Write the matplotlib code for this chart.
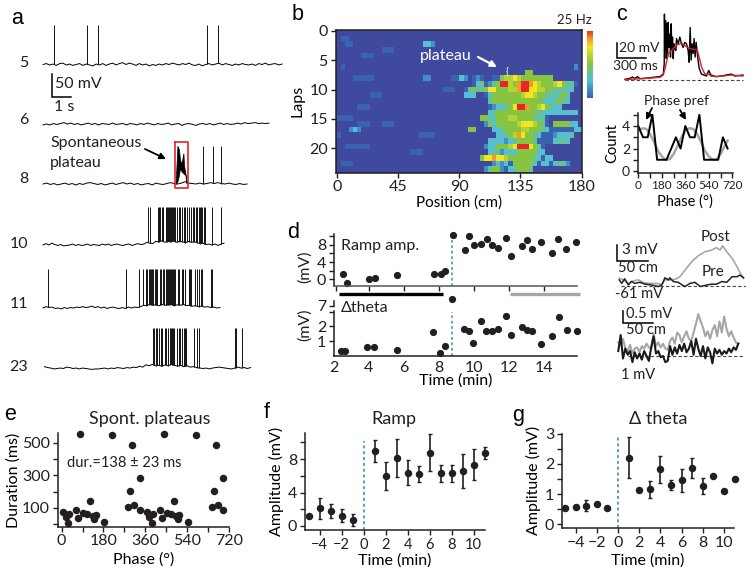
import matplotlib
matplotlib.use('Agg')
import matplotlib.pyplot as plt
import numpy as np
from matplotlib.colors import ListedColormap, LinearSegmentedColormap

W, H = 751, 574
INK = '#231F20'
BLUE_DASH = '#5B9BC8'
GREY = '#A6A6A6'
plt.rcParams['font.family'] = ['Lato', 'DejaVu Sans']
plt.rcParams['font.size'] = 11
plt.rcParams['axes.linewidth'] = 1.1
plt.rcParams['axes.edgecolor'] = INK
plt.rcParams['text.color'] = INK
plt.rcParams['xtick.color'] = INK
plt.rcParams['ytick.color'] = INK

# --- a: voltage traces, baseline in mV, spike times in s
lap5_base = [0, 2, -1, 1, -2, 2, 3, -1, 1, -2, 0, 2, -2, 1, -1, -3, 1, -1, 2, -2, 1, 3, -1, 2, 4, 0, 3, 1, -2, 2,
             -1, 1, -3, 0, -2, 1, -1, 2, 0, 3, 1, -1, 2, 0, 3, -1, -2, 1, -3, 0, 2, -1, 1, 3, -1, 2, 0, -2, 1, -1,
             2, 0, -1, 1, -2, 2, 0, 3, -1, 1, 2, -1, 1]
lap5_spikes = [0.53, 2.2, 2.73, 8.18, 8.75]
lap6_base = [-2, 0, -2, 1, -1, 1, 3, 0, 2, -1, 1, -2, 0, 2, -1, 1, -2, 1, 0, -1, 2, -1, 0, 1, -2, 1, 0, -2, 1, -1,
             2, 0, -2, 1, -1, 0, 2, -2, 0, 1, -3, 0, 1, -1, -3, 0, 1, -1, 1, -2, 0, 2, -1, 1, -1, 0, 2, 0, 3, 1, 2,
             3, 1, 2, 1, 2]
lap8_base = [0, 2, -1, 1, -2, 0, 2, -1, 1, -2, 1, -1, 2, 3, 1, -1, 1, -2, 0, 2, -1, 1, 3, 0, 2, -1, 1, -2, 0, 1,
             -2, 2, 0, -1, 1, 3, 1, 0, 2, 5, 2, 1, 0, 2, 0, 1, 3, 1, 3, 1, 0, 2, 0, -1, 1, -1, 0]
lap8_spikes = [8.0, 8.48, 8.92]
plateau_t = [6.63, 6.72, 6.8, 6.85, 6.93, 7.02, 7.05, 7.12, 7.18]
plateau_hi = [0, 83, 75, 52, 45, 67, 41, 23, 5]
plateau_lo = [0, 5, 20, 34, 27, 23, 22, 20, 1]
lap10_base = [0, 3, 0, 4, 1, -1, 1, -2, -1, 0, 2, -1, 1, -1, 0, 2, -1, 1, 0, -1, 2, 0, 2, -1, 1, 2, 0, -1, 1, 2, -1,
              1, 3, 1, 2, 6, 4, 3, 8, 7, 9, 6, 8, 7, 9, 6, 8, 7, 5, 8, 6, 7, 5, 3, 4, 1, 2, 0, 2, -1, 2, 4]
lap10_spikes = [5.23, 5.37, 5.73, 5.8, 5.87, 5.93, 5.98, 6.13, 6.18, 6.23, 6.28, 6.33, 6.38, 6.43, 6.48, 6.55,
                6.62, 6.7, 6.78, 6.87, 6.95, 7.05, 7.12, 7.22, 7.32, 7.38, 7.48, 7.55, 7.63, 7.72, 7.8, 7.85,
                7.92, 7.97, 8.05, 8.12, 8.45, 8.88]
lap11_base = [0, 3, 1, 2, -1, 0, -2, 1, -1, 1, 0, 2, 1, 3, 1, 2, 4, 1, 3, 0, 2, -1, 1, 2, 0, -1, 1, -1, 2, 0, 2, 1,
              3, 6, 5, 8, 6, 7, 5, 8, 6, 7, 8, 5, 7, 6, 8, 5, 6, 4, 5, 3, 4, 2, 3, 1, 2, 0, 1]
lap11_spikes = [0.23, 4.13, 4.8, 5.02, 5.15, 5.22, 5.32, 5.37, 5.42, 5.47, 5.52, 5.58, 5.63, 5.68, 5.87, 5.92,
                5.98, 6.03, 6.13, 6.18, 6.23, 6.28, 6.33, 6.38, 6.43, 6.48, 6.55, 6.62, 6.75, 6.82, 6.95,
                7.02, 7.12, 7.28, 7.37, 7.42, 7.62, 7.68, 7.82, 7.88, 7.95, 8.42, 8.47]
lap23_base = [4, 2, 1, -1, 0, 1, 0, 3, 2, 0, 1, -1, 1, 0, -1, -2, -1, -1, 0, 1, -1, 1, 0, 2, 1, 0, 2, 1, 3, 2, 5, 3,
              8, 6, 9, 6, 7, 5, 8, 6, 9, 7, 5, 7, 4, 6, 3, 4, 2, 1, 0, 1, -1, 1, 2, 3, 2, 1, 0, -1, 1, 3, 1, 2, 0, 2]
lap23_spikes = [5.52, 5.57, 5.63, 5.72, 5.8, 5.88, 5.97, 6.08, 6.17, 6.23, 6.35, 6.4, 6.45, 6.5, 6.55, 6.7,
                6.78, 6.87, 6.95, 7.03, 7.1, 7.17, 7.53, 7.68, 7.8, 9.58, 9.65, 9.97]

# --- b: firing-rate map, one digit per 3 cm bin (0 background, 9 peak), laps 0-24
heat_left = ['', '011', '001100000000000000000332', '00000000000111', '000000111', '', '01', '',
             '000011111000000000000220000011', '', '00000000000000000000000000111', '00000000111', '',
             '00000111', '', '1111', '00000111000111', '000232', '100000000000000000001111', '', '00111111',
             '000000000000000000111', '00', '0111', '']
heat_right = ['', '', '', '', '', '', '00000000000000000000000000002', '000000000000000055',
              '32012100115667655555555', '0001341245' + '9965899876555675441',
              '0145445775' + '556689977665544433', '0333001355' + '55555677655443454',
              '0000000455' + '55555555554334543', '0000000123' + '345799855675433',
              '0000000345' + '5555555554333333333', '0000055345' + '556655554441',
              '0000002535' + '5555677765410555533', '0055000033' + '45555665554311111133',
              '0000000003' + '345687554311123334', '0000000333' + '32345555411113443',
              '0000002335' + '55679997541', '0000000344' + '23335555533', '0000057787' + '7655555543133',
              '0000000023' + '23155555313313442', '0000002455' + '21345554']
heat_colors = ['#3F4A9E', '#3A62B0', '#3E8FCB', '#58BFD0', '#66C196', '#86C441', '#B5D334', '#F3E620',
               '#F59A23', '#E8262A']
heat_ticks_x = [0, 45, 90, 135, 180]
heat_ticks_y = [0, 5, 10, 15, 20]

# --- c: plateau trace (ms, mV) and phase histogram
c_black_t = [0, 52, 79, 103, 128, 155, 241, 293, 362, 397, 407, 409, 414, 421, 428, 434, 441, 448, 455, 466, 472,
             479, 486, 493, 500, 507, 517, 528, 534, 552, 569, 586, 603, 621, 638, 655, 665, 676, 686, 696, 707,
             717, 727, 738, 748, 758, 769, 793, 845, 869, 890, 948, 1017, 1103, 1138, 1224]
c_black_v = [0, 1.3, 3.1, 0.9, 3.6, 0.9, 1.8, 2.7, 3.6, 7.1, 21, 88, 39, 79, 28, 75, 30, 77, 43, 61, 30, 75, 39, 57,
             28, 48, 41, 39, 55, 48, 57, 48, 43, 50, 48, 39, 23, 70, 26, 48, 35, 55, 30, 50, 37, 26, 15, 7, 4.4,
             12, 5.8, 3.6, 4.9, 7.1, 4.4, 5.8]
c_red_t = [0, 190, 362, 397, 424, 448, 483, 534, 586, 638, 690, 748, 769, 793, 828, 869, 890, 948, 1017, 1103, 1224]
c_red_v = [-0.4, 0.9, 2.7, 5.8, 19, 35, 39, 46, 49, 44, 41, 40, 30, 17, 7, 7, 4.4, 3.6, 4.4, 5.8, 4.4]
phase_bins = [0, 36, 72, 108, 144, 180, 216, 252, 288, 324, 360, 396, 432, 468, 504, 540, 576, 612, 648, 684]
phase_count = [4, 3, 3, 5, 1, 1, 1, 2, 3, 2, 4, 3, 3, 5, 1, 1, 1, 1, 3, 2]
fit_phase = [0, 30, 60, 90, 120, 150, 180, 210, 240, 270, 300, 330, 360, 390, 420, 450, 480, 510, 540, 570, 600, 630, 660, 684]
fit_count = [3.6, 3.8, 3.75, 3.3, 2.6, 1.8, 1.3, 1.0, 1.05, 1.5, 2.2, 3.0, 3.6, 3.8, 3.75, 3.3, 2.6, 1.8, 1.3, 1.0, 1.05, 1.5, 2.2, 2.7]

# --- d: time courses
ramp_t = [2.5, 2.74, 4.0, 4.37, 5.6, 7.73, 8.15, 8.37, 8.79, 9.52, 9.73, 10.0, 10.43, 10.76, 11.05, 11.37, 11.83,
          12.15, 12.76, 13.07, 13.35, 13.83, 14.48, 14.82, 15.3, 15.87]
ramp_v = [1.15, -0.77, 0.08, 0.3, 1.0, 1.23, 1.15, 1.85, 10.3, 6.8, 9.9, 8.0, 8.15, 9.2, 7.85, 7.2, 9.5, 5.3, 7.7,
          9.1, 6.9, 8.7, 6.15, 9.2, 6.9, 8.6]
theta_t = [2.42, 2.63, 3.91, 4.27, 5.63, 7.69, 8.07, 8.34, 9.46, 9.71, 9.96, 10.4, 10.72, 11.03, 11.37, 11.83,
           12.13, 12.76, 13.07, 13.35, 13.83, 14.5, 14.86, 15.34, 15.93]
theta_v = [0.3, 0.34, 0.6, 0.57, 0.39, 1.61, 0.16, 0.64, 1.84, 1.66, 0.87, 2.39, 1.7, 1.68, 1.84, 2.69, 1.38, 1.98,
           1.77, 1.66, 0.8, 1.36, 2.62, 1.75, 1.66]
theta_outlier_t = [8.76]
theta_outlier_v = [8.0]

post_x = [0, 7, 15, 23, 32, 40, 48, 59, 71, 76, 84, 93, 101, 112, 123, 132, 143, 154, 162, 168, 172, 179, 188, 196, 202, 207]
post_v = [1.5, 1.2, 0.55, 1.0, 1.2, 0.7, 0.55, 0.55, 0.4, 1.2, 1.2, 1.3, 1.8, 3.4, 4.9, 5.75, 6.5, 6.8, 7.25, 6.8,
          7.6, 6.5, 5.25, 3.7, 2.4, 1.5]
pre_x = [0, 4, 9, 15, 20, 26, 34, 43, 54, 65, 71, 76, 82, 84, 90, 98, 109, 118, 126, 135, 146, 154, 162, 171, 179, 188, 196, 201, 207]
pre_v = [1.2, 0.55, 1.4, 0.25, 0.9, 0.55, 0.75, 0.4, 0.25, -0.05, 0.25, 1.6, 1.2, 1.6, 0.9, 0.75, -0.05, 0.55, 0.75,
         -0.05, 0.25, 0.4, 0.4, 0.9, 0.75, 1.8, 1.8, 2.1, 1.6]
theta_post = [0.55, 0.45, 0.7, 0.3, 0.2, 0.45, 0.1, 0.3, 0.35, 0.15, 0.4, 0.3, 0.5, 0.35, 0.3, 0.9, 0.4, 0.55, 0.35,
              0.5, 0.3, 0.25, 0.6, 0.75, 0.5, 0.95, 0.85, 0.55, 0.8, 1.0, 0.7, 0.6, 0.95, 1.3, 1.7, 1.4, 1.15, 0.8,
              1.0, 0.7, 1.05, 1.25, 0.8, 1.4, 0.95, 1.6, 1.1, 0.8, 1.0, 0.75, 0.55, 0.5]
theta_pre = [0.2, 0.85, -0.1, 0.3, 0.05, 0.2, -0.25, 0.15, -0.1, 0.1, -0.15, 0.2, 0, -0.2, 0.35, 0.8, 0.1, 0.2, -0.05,
             0, -0.25, -0.2, 0.4, 0.05, 0.35, 0.1, 0.45, 0.2, 0.5, 0.15, 0.3, 0.6, 0.05, 0.7, 0.3, 0.0, 0.4, -0.1,
             0.35, 0.15, -0.3, 0.3, 0.1, 0.25, 0.05, 0.2, 0.1, 0.3, 0.15, 0.35, 0.25, 0.5]

# --- e: plateau duration against phase (one cycle, plotted twice)
spont_phase = [7, 17, 33, 29, 62, 70, 93, 110, 133, 141, 146, 122, 184, 80, 217, 287, 311, 336, 294, 336, 304]
spont_dur = [77, 46, 63, 9, 87, 40, 71, 63, 50, 34, 54, 145, 11, 553, 549, 104, 120, 89, 204, 286, 489]

# --- f, g: binned means
bin_t = [-5, -4, -3, -2, -1, 1, 2, 3, 4, 5, 6, 7, 8, 9, 10, 11]
ramp_mean = [1.2, 2.1, 1.8, 1.25, 0.7, 9.0, 6.0, 8.1, 6.35, 6.2, 8.75, 6.3, 6.3, 6.55, 7.3, 8.75]
ramp_err = [0, 1.3, 0.85, 0.75, 0.75, 1.3, 1.7, 2.3, 1.5, 0.95, 2.2, 1.05, 1.05, 2.0, 1.85, 0.75]
theta_mean = [0.53, 0.56, 0.62, 0.69, 0.55, 2.2, 1.13, 1.16, 1.82, 1.3, 1.46, 1.85, 1.27, 1.6, 1.1, 1.5]
theta_err = [0.05, 0.05, 0.18, 0.05, 0, 0.68, 0.05, 0.28, 0.44, 0.17, 0.38, 0.33, 0.25, 0, 0, 0]


fig = plt.figure(figsize=(W / 100, H / 100), dpi=100, facecolor='white')


def px_axes(left, top, right, bottom):
    return fig.add_axes([left / W, 1 - bottom / H, (right - left) / W, (bottom - top) / H])


def trace_axes(left, top, right, bottom, x0, y0, sx, sy):
    # no visible axis here: only the scale bars give the units
    ax = px_axes(left, top, right, bottom)
    ax.set_xlim((left - x0) / sx, (right - x0) / sx)
    ax.set_ylim((y0 - bottom) / sy, (y0 - top) / sy)
    ax.axis('off')
    return ax


def clean(ax):
    ax.spines['top'].set_visible(False)
    ax.spines['right'].set_visible(False)
    ax.patch.set_alpha(0)
    ax.tick_params(which='both', direction='out', width=1.0, labelsize=11.5, pad=2)
    ax.tick_params(which='major', length=3.5)
    ax.tick_params(which='minor', length=3.5)


def lap_trace(y0, base, spikes, height, start=0.0, end=12.0):
    ax = trace_axes(40, y0 - 50, 290, y0 + 10, 43, y0, 20, 0.46)
    t = np.linspace(start, end, len(base))
    ax.plot(t, base, color='black', lw=0.7)
    if spikes:
        ax.vlines(spikes, np.interp(spikes, t, base), height, color='#111111', lw=0.7)
    return ax


# panel a
lap_trace(64.5, lap5_base, lap5_spikes, 85, end=11.95)
lap_trace(124, lap6_base, [], 0, end=11.3)
ax8 = lap_trace(184, lap8_base, lap8_spikes, 82, end=10.2)
ax8.fill_between(plateau_t, plateau_lo, plateau_hi, color='black', lw=0.5)
lap_trace(245, lap10_base, lap10_spikes, 83, end=9.05)
lap_trace(308, lap11_base, lap11_spikes, 84, end=8.85)
lap_trace(368.5, lap23_base, lap23_spikes, 87, start=0.07, end=10.38)

# panel b
ax = px_axes(335.5, 30, 581.7, 172.7)
heat = np.array([[int(c) for c in (l.ljust(30, '0') + r.ljust(30, '0'))] for l, r in zip(heat_left, heat_right)])
ax.set_facecolor(heat_colors[0])
ax.imshow(heat, cmap=ListedColormap(heat_colors), vmin=0, vmax=9, aspect='auto', extent=(0, 180, 24.1, 0),
          interpolation='nearest')
ax.set_xlim(-0.9, 180)
ax.set_ylim(24.22, -0.17)
ax.set_xticks(heat_ticks_x)
ax.set_yticks(heat_ticks_y)
ax.tick_params(direction='out', length=3.5, width=1.0, labelsize=11.5, pad=2)
ax.set_xlabel('Position (cm)', fontsize=11, labelpad=1)
ax.set_ylabel('Laps', fontsize=11.5, labelpad=3)

cb = px_axes(587.3, 30.7, 593.3, 98.3)
cb.imshow(np.linspace(1, 0, 64)[:, None], aspect='auto',
          cmap=LinearSegmentedColormap.from_list('rate', heat_colors[1:]))
cb.axis('off')

# panel c
ax = trace_axes(623, 8, 745, 86, 625, 79.3, 118 / 1224, 0.74)
ax.hlines(-0.9, 0, 1224, color='#444444', lw=0.8, linestyles=(0, (3, 2)))
ax.plot(c_black_t, c_black_v, color='black', lw=1.0)
ax.plot(c_red_t, c_red_v, color='#D9202E', lw=1.0)

ax = px_axes(637.7, 113, 732.7, 172.7)
ax.plot(fit_phase, fit_count, color=GREY, lw=1.8)
ax.plot(phase_bins, phase_count, color='black', lw=1.4)
ax.set_xlim(-4.6, 723)
ax.set_ylim(-0.15, 5.16)
ax.set_xticks([0, 180, 360, 540, 720])
ax.set_xticks([90, 270, 450, 630], minor=True)
ax.set_yticks([0, 2, 4])
ax.set_yticks([1, 3, 5], minor=True)
clean(ax)
ax.tick_params(axis='y', labelsize=10)
ax.tick_params(axis='x', labelsize=8.5)
ax.set_xlabel('Phase (°)', fontsize=10.5, labelpad=2)
ax.set_ylabel('Count', fontsize=10.5, labelpad=2)

# panel d, left
ax = px_axes(334, 234, 576.7, 286)
ax.plot(ramp_t, ramp_v, 'o', color=INK, ms=5.2, clip_on=False, mec='none')
ax.vlines(8.78, -1.5, 9.5, color=BLUE_DASH, lw=1.3, linestyles=(0, (1.5, 1.5)))
ax.set_xlim(2, 15.9)
ax.set_ylim(-1.5, 10.45)
ax.set_xticks([2.1, 4, 6, 8, 10, 12, 14])
ax.set_xticklabels([])
ax.set_yticks([0, 4, 8])
ax.set_yticks([2, 6, 10], minor=True)
ax.set_yticklabels(['0', '4', '8'])
clean(ax)
ax.spines['bottom'].set_color('#555555')

ax = px_axes(334, 311, 576.7, 355.7)
ax.plot(theta_t, theta_v, 'o', color=INK, ms=5.2, clip_on=False, mec='none')
ax.vlines(8.78, 0, 3, color=BLUE_DASH, lw=1.3, linestyles=(0, (1.5, 1.5)))
ax.set_xlim(2, 15.9)
ax.set_ylim(0, 3.05)
ax.set_xticks([2, 4, 6, 8, 10, 12, 14])
ax.set_yticks([1, 2])
ax.set_yticks([3], minor=True)
clean(ax)
ax.tick_params(axis='x', length=0, pad=4)
ax.set_xlabel('Time (min)', fontsize=11.5, labelpad=-1)

ax = px_axes(334, 301, 576.7, 306)
ax.plot(theta_outlier_t, theta_outlier_v, 'o', color=INK, ms=5.2, clip_on=False, mec='none')
ax.set_xlim(2, 15.9)
ax.set_ylim(7, 7.7)
ax.set_xticks([])
ax.set_yticks([7])
clean(ax)
ax.spines['bottom'].set_visible(False)
ax.tick_params(labelsize=11.5)

# panel d, right
ax = trace_axes(617, 240, 746, 296, 619.3, 286.3, 0.6, 5.33)
ax.hlines(0, 3, 212, color='#444444', lw=0.8, linestyles=(0, (3, 2)))
ax.plot(post_x, post_v, color=GREY, lw=1.2)
ax.plot(pre_x, pre_v, color='#222222', lw=1.1)

ax = trace_axes(615, 305, 746, 372, 618.3, 356, 0.6, 74 / 3)
ax.hlines(0, 16, 208, color='#444444', lw=0.8, linestyles=(0, (3, 2)))
x_theta = np.linspace(0, 200, len(theta_post))
ax.plot(x_theta, theta_post, color=GREY, lw=1.5)
ax.plot(x_theta, theta_pre, color='#1A1A1A', lw=1.5)

# panel e
ax = px_axes(57.7, 433.3, 229, 526.7)
ax.plot(spont_phase, spont_dur, 'o', color=INK, ms=5.4, clip_on=False, mec='none')
ax.plot(np.array(spont_phase) + 360, spont_dur, 'o', color=INK, ms=5.4, clip_on=False, mec='none')
ax.set_xlim(-17, 720)
ax.set_ylim(-15, 559)
ax.set_xticks([0, 180, 360, 540, 720])
ax.set_xticks([90, 270, 450, 630], minor=True)
ax.set_yticks([100, 300, 500])
ax.set_yticks([0, 200, 400], minor=True)
clean(ax)
ax.set_xlabel('Phase (°)', fontsize=11.5, labelpad=3)
ax.set_ylabel('Duration (ms)', fontsize=11.5, labelpad=1)

# panel f
ax = px_axes(305, 433.3, 485, 530)
ax.errorbar(bin_t, ramp_mean, yerr=ramp_err, fmt='o', color=INK, ms=5.4, mec='none', elinewidth=1.2, capsize=1.5,
            capthick=1.0, clip_on=False)
ax.vlines(0, -0.48, 10.2, color=BLUE_DASH, lw=1.4, linestyles=(0, (1.5, 1.5)))
ax.set_xlim(-5.33, 11.03)
ax.set_ylim(-0.48, 11.08)
ax.set_xticks([-4, -2, 0, 2, 4, 6, 8, 10])
ax.set_yticks([0, 4, 8])
ax.set_yticks([2, 6, 10], minor=True)
clean(ax)
ax.tick_params(axis='x', labelsize=10.5)
ax.set_xlabel('Time (min)', fontsize=11.5, labelpad=1)
ax.set_ylabel('Amplitude (mV)', fontsize=11.5, labelpad=3)

# panel g
ax = px_axes(562, 433.7, 734.3, 528)
ax.errorbar(bin_t, theta_mean, yerr=theta_err, fmt='o', color=INK, ms=5.4, mec='none', elinewidth=1.2, capsize=1.5,
            capthick=1.0, clip_on=False)
ax.vlines(0, -0.12, 2.97, color=BLUE_DASH, lw=1.4, linestyles=(0, (1.5, 1.5)))
ax.set_xlim(-5.28, 10.97)
ax.set_ylim(-0.12, 3.0)
ax.set_xticks([-4, -2, 0, 2, 4, 6, 8, 10])
ax.set_yticks([0, 1, 2, 3])
ax.set_yticks([0.5, 1.5, 2.5], minor=True)
clean(ax)
ax.set_xlabel('Time (min)', fontsize=11.5, labelpad=3)
ax.set_ylabel('Amplitude (mV)', fontsize=11.5, labelpad=3)

# overlay in picture pixels: panel letters, scale bars, annotations
ov = fig.add_axes([0, 0, 1, 1], zorder=10)
ov.set_xlim(0, W)
ov.set_ylim(H, 0)
ov.axis('off')


def label(x, y, s, size=11.5, ha='left', color=INK, **kw):
    ov.text(x, y, s, fontsize=size, ha=ha, va='center', color=color, **kw)


def scale_bar(x, y_top, y_bot, x_end):
    ov.plot([x, x, x_end], [y_top, y_bot, y_bot], color='black', lw=1.1, solid_joinstyle='miter')


def arrow(x0, y0, x1, y1, color='black', lw=1.3):
    ov.annotate('', xy=(x1, y1), xytext=(x0, y0),
                arrowprops=dict(arrowstyle='-|>', color=color, lw=lw, shrinkA=0, shrinkB=0, mutation_scale=9))


for x, y, s in [(11, 18, 'a'), (292, 14, 'b'), (616, 15, 'c'), (287, 232, 'd'), (4, 414, 'e'), (264, 413, 'f'), (512, 416, 'g')]:
    ov.text(x, y, s, fontsize=15.5, family='Liberation Sans', va='center', color='black')

for y, s in [(63, '5'), (120, '6'), (179, '8')]:
    label(28, y, s, 11.5, ha='right')
for y, s in [(244, '10'), (304, '11'), (367, '23')]:
    label(28, y, s, 11.5, ha='right')

scale_bar(51.5, 74, 97, 71)
label(55, 84, '50 mV')
label(54, 107, '1 s')
label(50, 143, 'Spontaneous')
label(50, 163, 'plateau')
arrow(145, 149, 166, 159)
ov.plot([175, 187.5, 187.5, 175, 175], [142, 142, 188, 188, 142], color='#E8232A', lw=1.2)

label(592, 20, '25 Hz', 9.5, ha='right')
label(420, 56, 'plateau', 11.5, color='white')
arrow(478, 57, 497, 67, color='white', lw=1.6)
label(507, 72, '{', 7, ha='center', color='white')

scale_bar(617, 43, 58, 646)
label(619, 48, '20 mV', 10)
label(613, 66, '300 ms', 10)
label(644, 100.7, 'Phase pref', 10)
arrow(652, 108, 646, 120)
arrow(680, 110, 686, 120)

label(340.7, 246, 'Ramp amp.', 11.5)
label(340.7, 308, 'Δtheta', 11.5)
label(305, 267, '(mV)', 11.5, ha='center', rotation=90)
label(305, 325, '(mV)', 11.5, ha='center', rotation=90)
ov.plot([339.3, 442.7], [294.3, 294.3], color='black', lw=2.4, solid_capstyle='butt')
ov.plot([510, 580], [294.3, 294.3], color=GREY, lw=2.4, solid_capstyle='butt')

scale_bar(617.3, 245, 261, 648)
label(716, 237, 'Post', 11, ha='center')
label(712.7, 271.7, 'Pre', 11, ha='center')
label(622, 250, '3 mV', 11)
label(618, 268, '50 cm', 10.5)
label(615, 294, '-61 mV', 10.5)
scale_bar(622.7, 311, 323, 652.7)
label(626, 314, '0.5 mV', 10.5)
label(626, 330, '50 cm', 10.5)
label(621, 375, '1 mV', 10.5)

label(150, 419, 'Spont. plateaus', 13, ha='center')
label(67, 463, 'dur.=138 ± 23 ms', 10.5)
label(394, 419, 'Ramp', 13, ha='center')
label(658, 419, 'Δ theta', 13, ha='center')

fig.savefig('out.png', dpi=100)
